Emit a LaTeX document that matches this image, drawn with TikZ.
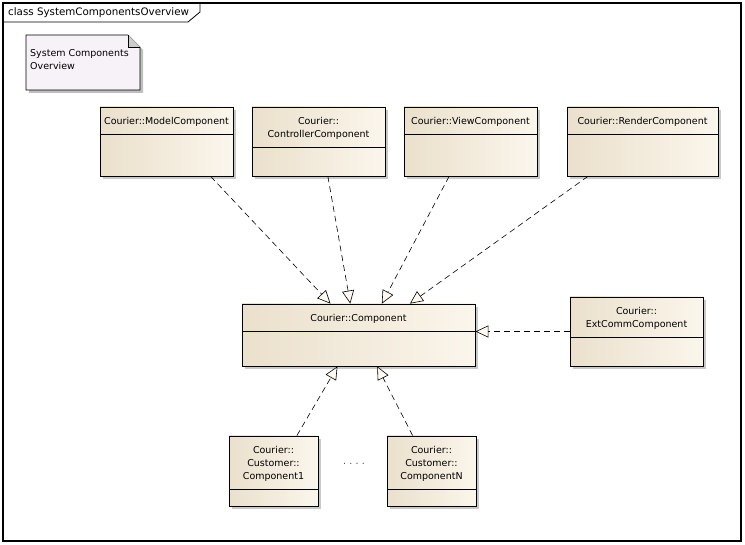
\documentclass[tikz,border=0pt]{standalone}
\usepackage{fontspec}
\setmainfont{DejaVu Sans}
\usetikzlibrary{arrows.meta,calc,shadows}
\definecolor{clsleft}{HTML}{EAE0CC}
\definecolor{clsright}{HTML}{FBF6EC}
\definecolor{notefill}{HTML}{F7F2F7}
\definecolor{headfill}{HTML}{FDFAF1}

\begin{document}
\begin{tikzpicture}[x=1pt,y=-1pt,
    every node/.style={font=\fontsize{9.5}{13}\selectfont},
    clsbox/.style={draw,line width=0.8pt,shade,left color=clsleft,right color=clsright,
      drop shadow={shadow xshift=3pt,shadow yshift=-3pt,fill=black!30,opacity=0.7},
      inner sep=0pt},
    real/.style={line width=0.6pt,dash pattern=on 6pt off 4pt,
      -{Triangle[length=13pt,width=12pt,fill=headfill,line width=0.6pt]}}]
  \useasboundingbox (0,0) rectangle (745,545);
  % frame and tab
  \draw[line width=1.5pt] (3,3) rectangle (741,541);
  \draw[line width=0.8pt] (3,22) -- (188,22) -- (200,12) -- (200,3);
  \node[anchor=west,inner sep=0pt,font=\fontsize{10.3}{13}\selectfont] (title) at (8,12.5) {class SystemComponentsOverview};
  % note
  \fill[black!25] (29,38) -- (131,38) -- (143,50) -- (143,93) -- (29,93) -- cycle;
  \filldraw[fill=notefill,line width=0.6pt] (26,35) -- (128,35) -- (140,47) -- (140,90) -- (26,90) -- cycle;
  \filldraw[fill=black!20,line width=0.6pt] (128,35) -- (128,47) -- (140,47);
  \node[anchor=north west,align=left,inner sep=0pt] (note) at (30,49) {System Components\\Overview};
  % classes
  \foreach \n/\xa/\ya/\xb/\yb/\yd/\txt in {
      model/100/107/233/176/134/{Courier::ModelComponent},
      ctrl/252/107/385/176/147/{Courier::\\ControllerComponent},
      view/404/107/537/176/134/{Courier::ViewComponent},
      rend/567/107/718/176/134/{Courier::RenderComponent},
      comp/242/304/475/366/331/{Courier::Component},
      ext/570/297/703/366/337/{Courier::\\ExtCommComponent},
      cust1/229/436/318/506/489/{Courier::\\Customer::\\Component1},
      custn/387/436/476/506/489/{Courier::\\Customer::\\ComponentN}}{
    \node[clsbox,minimum width=\xb-\xa,minimum height=\yb-\ya] (\n) at ({(\xa+\xb)/2},{(\ya+\yb)/2}) {};
    \draw[line width=0.8pt] (\xa,\yd) -- (\xb,\yd);
    \node[align=center,inner sep=0pt] (\n-t) at ({(\xa+\xb)/2},{(\ya+\yd)/2+1.5}) {\txt};
  }
  \node[text=black!70] (dots) at (354,464) {.\,\,.\,\,.\,\,.};
  % realizations
  \foreach \s/\fs/\fe in {model/0.83/0.38,ctrl/0.57/0.465,view/0.34/0.6,rend/0.14/0.72}{
    \draw[real] ($(\s.south west)!\fs!(\s.south east)$) -- ($(comp.north west)!\fe!(comp.north east)$);
  }
  \foreach \s/\fs/\fe in {cust1/0.76/0.41,custn/0.29/0.58}{
    \draw[real] ($(\s.north west)!\fs!(\s.north east)$) -- ($(comp.south west)!\fe!(comp.south east)$);
  }
  \draw[real] (ext.west) -- (comp.east |- ext.west);
\end{tikzpicture}
\end{document}
